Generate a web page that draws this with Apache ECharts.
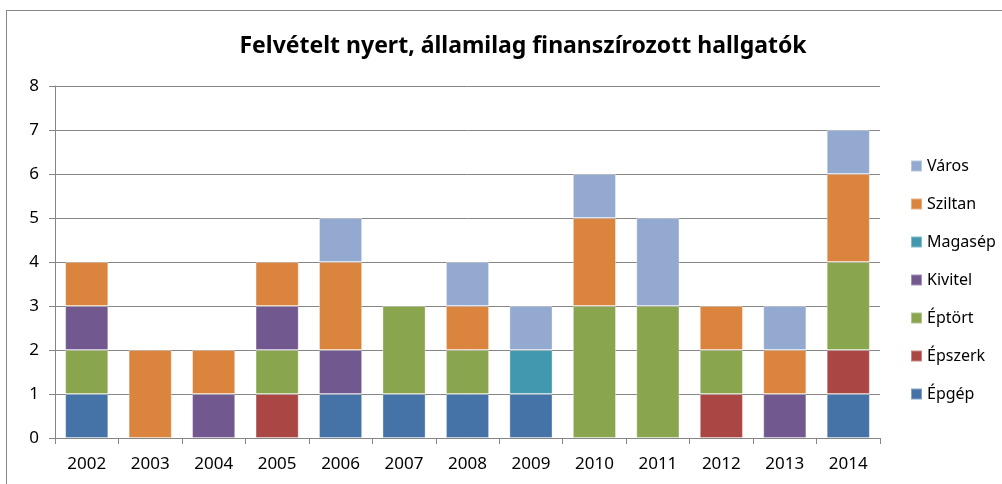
<!DOCTYPE html>
<html>
<head>
<meta charset="utf-8">
<script src="https://cdn.jsdelivr.net/npm/echarts@6/dist/echarts.min.js"></script>
<style>
html,body{margin:0;padding:0;background:#fff;}
#frame{position:absolute;left:6px;top:10px;width:1100px;height:600px;border:1px solid #868686;box-sizing:border-box;}
#chart{position:absolute;left:0;top:0;width:1002px;height:484px;}
</style>
</head>
<body>
<div id="frame"></div>
<div id="chart"></div>
<script>
var years = ['2002','2003','2004','2005','2006','2007','2008','2009','2010','2011','2012','2013','2014'];
var epgep   = [1,0,0,0,1,1,1,1,0,0,0,0,1];
var epszerk = [0,0,0,1,0,0,0,0,0,0,1,0,1];
var eptort  = [1,0,0,1,0,2,1,0,3,3,1,0,2];
var kivitel = [1,0,1,1,1,0,0,0,0,0,0,1,0];
var magasep = [0,0,0,0,0,0,0,1,0,0,0,0,0];
var sziltan = [1,2,1,1,2,0,1,0,2,0,1,1,2];
var varos   = [0,0,0,0,1,0,1,1,1,2,0,1,1];

var seriesNames = ['Épgép','Épszerk','Éptört','Kivitel','Magasép','Sziltan','Város'];
var seriesData = [epgep, epszerk, eptort, kivitel, magasep, sziltan, varos];
var colors = ['#4572A7','#AA4643','#89A54E','#71588F','#4198AF','#DB843D','#93A9CF'];

var font = 'Noto Sans';
var chart = echarts.init(document.getElementById('chart'));
var series = [];
for (var i = 0; i < seriesNames.length; i++) {
    series.push({
        name: seriesNames[i],
        type: 'bar',
        stack: 'total',
        barCategoryGap: '32%',
        data: seriesData[i].map(function(v){ return v === 0 ? null : v; }),
        itemStyle: {color: colors[i], borderColor: 'rgba(255,255,255,0.35)', borderWidth: 1}
    });
}
var option = {
    animation: false,
    color: colors,
    title: {
        text: 'Felvételt nyert, államilag finanszírozott hallgatók',
        left: 518, top: 30, textAlign: 'center',
        textStyle: {fontFamily: font, fontWeight: 'bold', fontSize: 23, color: '#000'}
    },
    legend: {
        orient: 'vertical',
        left: 905, top: 153,
        icon: 'rect',
        itemWidth: 11, itemHeight: 11, itemGap: 22,
        data: seriesNames.slice().reverse(),
        textStyle: {fontFamily: font, fontSize: 16, lineHeight: 16, color: '#000'}
    },
    grid: {left: 55, right: 122, top: 86, bottom: 46},
    xAxis: {
        type: 'category',
        data: years,
        axisLine: {lineStyle: {color: '#868686'}},
        axisTick: {show: true, alignWithLabel: false, length: 6, lineStyle: {color: '#868686'}},
        axisLabel: {fontFamily: font, fontSize: 17, color: '#000', margin: 18}
    },
    yAxis: {
        type: 'value',
        min: 0, max: 8, interval: 1,
        axisLine: {show: true, lineStyle: {color: '#868686'}},
        axisTick: {show: true, length: 6, lineStyle: {color: '#868686'}},
        axisLabel: {fontFamily: font, fontSize: 17, color: '#000', margin: 16},
        splitLine: {lineStyle: {color: '#868686'}}
    },
    series: series
};
chart.setOption(option);
</script>
</body>
</html>
